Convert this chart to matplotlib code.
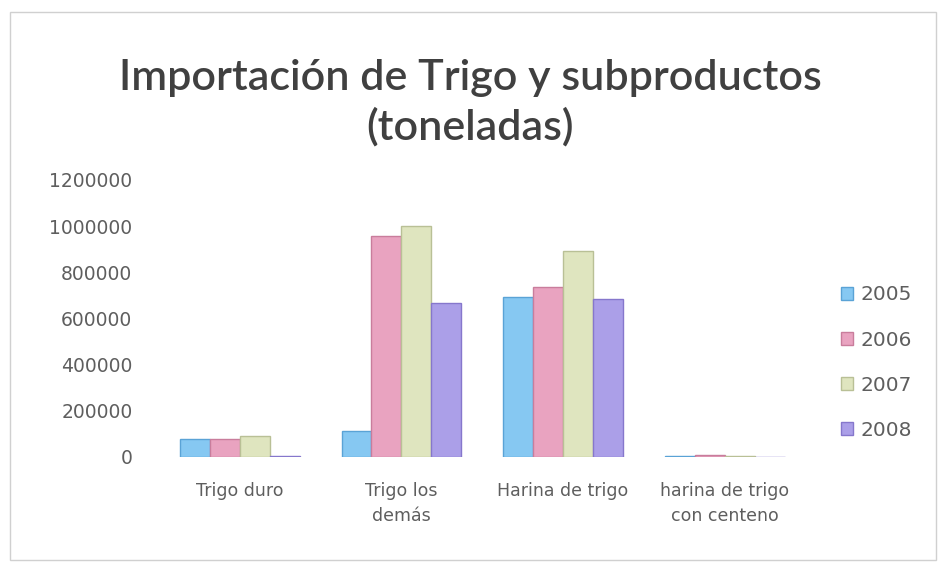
import numpy as np
import matplotlib
matplotlib.use('Agg')
from matplotlib import pyplot as plt
from matplotlib.patches import Rectangle

categories = ['Trigo duro', 'Trigo los\ndemás', 'Harina de trigo', 'harina de trigo\ncon centeno']
years = ['2005', '2006', '2007', '2008']
v2005 = [75000, 113000, 693000, 2000]
v2006 = [78000, 957000, 736000, 6000]
v2007 = [90000, 1000000, 892000, 3000]
v2008 = [3000, 667000, 684000, 1000]
yticks = [0, 200000, 400000, 600000, 800000, 1000000, 1200000]

series = [v2005, v2006, v2007, v2008]
colors = ['#86c8f2', '#e9a3c0', '#dfe5bf', '#ab9fe8']
edges = ['#5aa3d6', '#c97d9c', '#b9c096', '#8677cc']

plt.rcParams['font.family'] = ['DejaVu Sans']
grey = '#5e5e5e'

fig = plt.figure(figsize=(9.4, 5.66), dpi=100)
ax = fig.add_axes([0.169, 0.193, 0.688, 0.489])

x = np.arange(len(categories))
w = 0.185
for i in range(4):
    ax.bar(x + (i - 1.5) * w, series[i], w, color=colors[i], edgecolor=edges[i],
           linewidth=1, label=years[i])

ax.set_xlim(-0.5, 3.5)
ax.set_ylim(0, 1200000)
ax.set_yticks(yticks)
ax.set_yticklabels([str(t) for t in yticks], fontsize=13.5, color=grey)
ax.set_xticks(x)
ax.set_xticklabels(categories, fontsize=12.5, color=grey, linespacing=1.5)
ax.tick_params(length=0)
ax.tick_params(axis='x', pad=18)
ax.tick_params(axis='y', pad=19)
for s in ax.spines.values():
    s.set_visible(False)

leg = ax.legend(loc='center left', bbox_to_anchor=(1.055, 0.34), frameon=False,
                fontsize=14.5, handlelength=0.6, handleheight=0.6, borderpad=0,
                labelspacing=1.3, handletextpad=0.35, borderaxespad=0)
for t in leg.get_texts():
    t.set_color(grey)

fig.text(0.5, 0.818, 'Importación de Trigo y subproductos\n(toneladas)', ha='center',
         va='center', fontsize=31, fontweight='semibold', color='#404040',
         linespacing=1.3, family=['Lato', 'DejaVu Sans'])

# faint frame around the chart
fig.patches.append(Rectangle((0.011, 0.01), 0.985, 0.968, transform=fig.transFigure,
                             fill=False, edgecolor='#d0d0d0', linewidth=1))

plt.savefig('out.png', dpi=100)
